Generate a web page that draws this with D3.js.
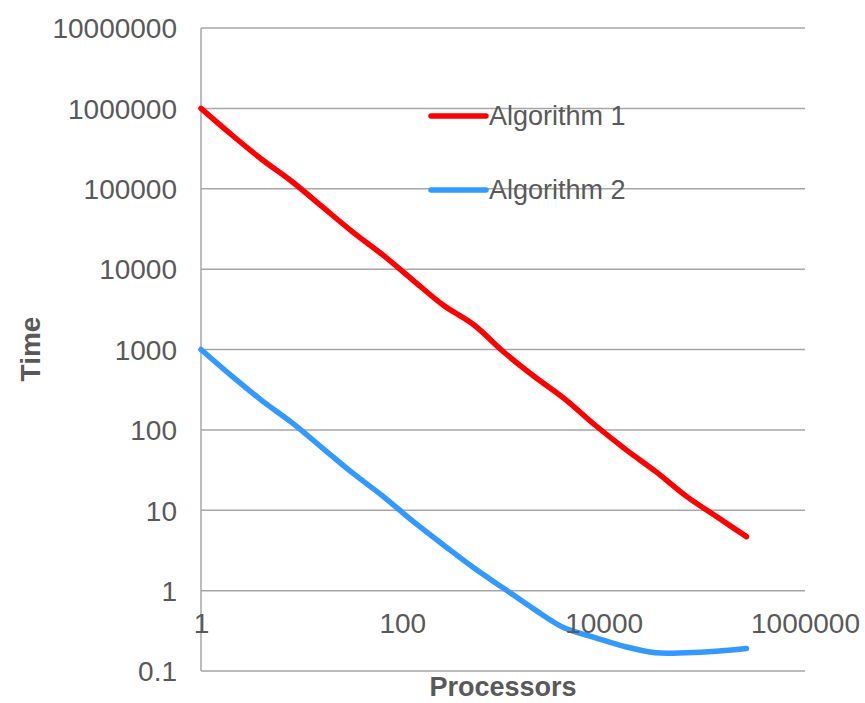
<!DOCTYPE html>
<html>
<head>
<meta charset="utf-8">
<script src="https://cdn.jsdelivr.net/npm/d3@7"></script>
<style>
  html, body { margin: 0; padding: 0; background: #ffffff; }
  svg { display: block; }
  text { font-family: "Liberation Sans", Arial, sans-serif; fill: #595959; }
</style>
</head>
<body>
<svg id="chart" width="865" height="703"></svg>
<script>
// ---- data ----
const processors = [1, 2, 4, 8, 16, 32, 64, 128, 256, 512, 1024, 2048, 4096, 8192, 16384, 32768, 65536, 131072, 262144];
const algorithm1 = [1000000, 473000, 233000, 123000, 59800, 29100, 15000, 7260, 3550, 2030, 925, 461, 243, 115, 57.7, 30.4, 15.1, 8.4, 4.7];
const algorithm2 = [1000, 473, 233, 123, 59.8, 29.1, 15.0, 7.26, 3.7, 1.92, 1.06, 0.585, 0.342, 0.261, 0.201, 0.169, 0.169, 0.176, 0.19];
const seriesNames = ["Algorithm 1", "Algorithm 2"];
const seriesColors = ["#FF0000", "#3399FF"];
const yTicks = [0.1, 1, 10, 100, 1000, 10000, 100000, 1000000, 10000000];
const xTicks = [1, 100, 10000, 1000000];
const xTitle = "Processors";
const yTitle = "Time";

// ---- layout ----
const svg = d3.select("#chart");
const pLeft = 201, pRight = 805, pTop = 28, pBottom = 671;

const x = d3.scaleLog().domain([1, 1000000]).range([pLeft, pRight]);
const y = d3.scaleLog().domain([0.1, 10000000]).range([pBottom, pTop]);
const fmt = d => d >= 1 ? d3.format("d")(d) : String(d);

const gridColor = "#A6A6A6";

// gridlines
svg.append("g")
  .selectAll("line")
  .data(yTicks)
  .join("line")
  .attr("x1", pLeft).attr("x2", pRight)
  .attr("y1", d => y(d)).attr("y2", d => y(d))
  .attr("stroke", gridColor)
  .attr("stroke-width", 1.5);

// vertical axis line
svg.append("line")
  .attr("x1", pLeft).attr("x2", pLeft)
  .attr("y1", y(10000000)).attr("y2", y(0.1))
  .attr("stroke", gridColor)
  .attr("stroke-width", 1.5);

// y axis labels
const yAxis = d3.axisLeft(y).tickValues(yTicks).tickFormat(fmt).tickSize(0).tickPadding(24);
const gy = svg.append("g").attr("transform", `translate(${pLeft},0)`).call(yAxis);
gy.select(".domain").remove();
gy.selectAll("text")
  .style("font-family", '"Liberation Sans", Arial, sans-serif')
  .style("font-size", "28px")
  .attr("fill", "#595959")
  .attr("dy", "0.35em");

// series
const line = d3.line()
  .x(d => x(d[0]))
  .y(d => y(d[1]))
  .curve(d3.curveCatmullRom.alpha(0.5));

const series = [algorithm1, algorithm2];
series.forEach((vals, i) => {
  const pts = processors.map((p, k) => [p, vals[k]]);
  svg.append("path")
    .datum(pts)
    .attr("d", line)
    .attr("fill", "none")
    .attr("stroke", seriesColors[i])
    .attr("stroke-width", 5.5)
    .attr("stroke-linecap", "round")
    .attr("stroke-linejoin", "round");
});

// x axis labels (drawn at the y=1 crossing, above series)
const xAxis = d3.axisBottom(x).tickValues(xTicks).tickFormat(fmt).tickSize(0).tickPadding(22);
const gx = svg.append("g").attr("transform", `translate(0,${y(1)})`).call(xAxis);
gx.select(".domain").remove();
gx.selectAll("text")
  .style("font-family", '"Liberation Sans", Arial, sans-serif')
  .style("font-size", "28px")
  .attr("fill", "#595959");

// legend
const legend = svg.append("g");
const legendY = [116, 190];
seriesNames.forEach((name, i) => {
  legend.append("line")
    .attr("x1", 431).attr("x2", 486)
    .attr("y1", legendY[i]).attr("y2", legendY[i])
    .attr("stroke", seriesColors[i])
    .attr("stroke-width", 5.5)
    .attr("stroke-linecap", "round");
  legend.append("text")
    .attr("x", 489).attr("y", legendY[i])
    .attr("dy", "0.35em")
    .style("font-size", "27px")
    .text(name);
});

// axis titles
svg.append("text")
  .attr("x", 503).attr("y", 696)
  .attr("text-anchor", "middle")
  .style("font-size", "27px")
  .style("font-weight", "bold")
  .text(xTitle);

svg.append("text")
  .attr("transform", `translate(40, 349) rotate(-90)`)
  .attr("text-anchor", "middle")
  .style("font-size", "28px")
  .style("font-weight", "bold")
  .text(yTitle);
</script>
</body>
</html>
